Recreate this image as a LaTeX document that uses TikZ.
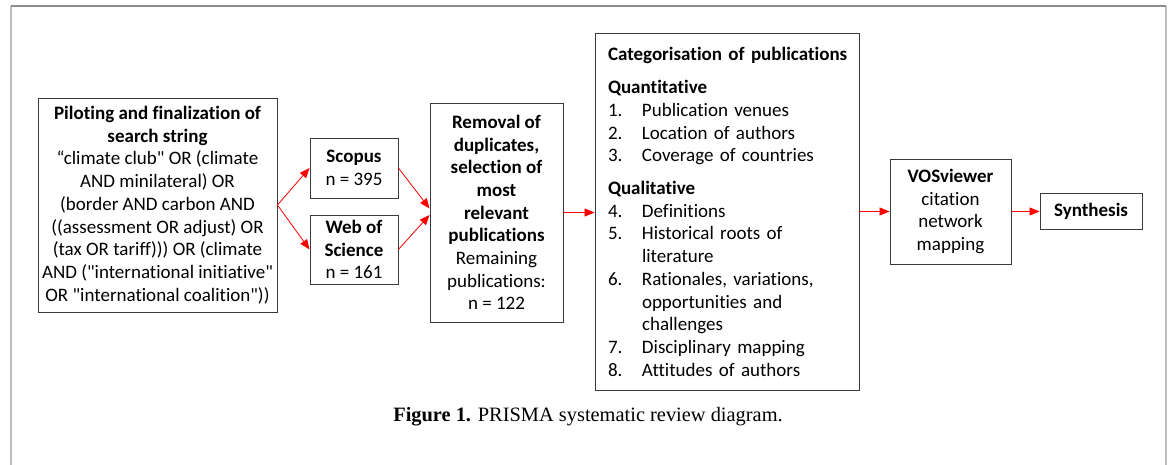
\documentclass[tikz,border=0pt]{standalone}
\usepackage{fontspec}
\setmainfont{Carlito}[Ligatures={NoCommon}]
\newfontfamily\capfont{Liberation Serif}
\usetikzlibrary{arrows.meta,calc}
\definecolor{boxline}{HTML}{3A3A3A}
\definecolor{arrred}{HTML}{FF0000}
\newcommand{\dq}{\textquotedbl}
\newcommand{\itm}[2]{\mbox{\makebox[34pt][l]{#1}#2}}
\newcommand{\cont}[1]{\mbox{\hspace*{34pt}#1}}
\tikzset{
  box/.style={draw=boxline, line width=0.9pt, inner sep=0pt, align=center,
    font=\fontsize{19}{22.7}\selectfont, text=black},
  arr/.style={draw=arrred, line width=0.8pt, -{Triangle[length=10pt,width=8pt]}},
}
\begin{document}
\begin{tikzpicture}[x=1pt,y=-1pt]
\useasboundingbox (0,0) rectangle (1170,465);
% outer frame
\draw[color=black!25, line width=1.5pt] (11,470) -- (11,6);
\draw[color=black!25, line width=1.5pt] (1166,470) -- (1166,6);
\draw[color=black!45, line width=1.2pt] (11,6) -- (1166,6);

\node[box, minimum width=239pt, minimum height=214pt] (pilot) at (157.5,205)
 {\textbf{Piloting and finalization of}\\\textbf{search string}\\“climate club\dq{} OR (climate\\AND minilateral) OR\\(border AND carbon AND\\((assessment OR adjust) OR\\(tax OR tariff))) OR (climate\\AND (\dq international initiative\dq\\OR \dq international coalition\dq))};

\node[box, minimum width=88pt, minimum height=60pt] (scopus) at (354,168)
 {\textbf{Scopus}\\n = 395};
\node[box, minimum width=88pt, minimum height=69pt] (wos) at (354,249.5)
 {\textbf{Web of}\\\textbf{Science}\\n = 161};

\node[box, minimum width=133pt, minimum height=219pt] (removal) at (496.5,212.5)
 {\textbf{Removal of}\\\textbf{duplicates,}\\\textbf{selection of}\\\textbf{most}\\\textbf{relevant}\\\textbf{publications}\\Remaining\\publications:\\n = 122};

\node[box, minimum height=357pt, text width=238pt, inner xsep=13pt, align=left] (cat) at (727,211.5)
 {\mbox{\textbf{Categorisation of publications}}\\[11pt]
  \textbf{Quantitative}\\
  \itm{1.}{Publication venues}\\
  \itm{2.}{Location of authors}\\
  \itm{3.}{Coverage of countries}\\[10pt]
  \textbf{Qualitative}\\
  \itm{4.}{Definitions}\\
  \itm{5.}{Historical roots of}\\
  \cont{literature}\\
  \itm{6.}{Rationales, variations,}\\
  \cont{opportunities and}\\
  \cont{challenges}\\
  \itm{7.}{Disciplinary mapping}\\
  \itm{8.}{Attitudes of authors}};

\node[box, minimum width=121pt, minimum height=105pt] (vos) at (950.5,211.5)
 {\textbf{VOSviewer}\\citation\\network\\mapping};
\node[box, minimum width=102pt, minimum height=36pt] (syn) at (1091,211)
 {\textbf{Synthesis}};

\draw[arr] (pilot.east) -- (scopus.west);
\draw[arr] (pilot.east) -- (wos.west);
\draw[arr] (scopus.east) -- ($(removal.west)+(0,-4)$);
\draw[arr] (wos.east) -- ($(removal.west)+(0,2.5)$);
\draw[arr] (removal.east) -- (removal.east -| cat.west);
\draw[arr] (cat.east) -- (vos.west);
\draw[arr] (vos.east) -- (vos.east -| syn.west);

\node[font=\capfont\fontsize{20.4}{24}\selectfont, anchor=base] (caption) at (588,421)
 {\textbf{Figure 1.} PRISMA systematic review diagram.};
\end{tikzpicture}
\end{document}
